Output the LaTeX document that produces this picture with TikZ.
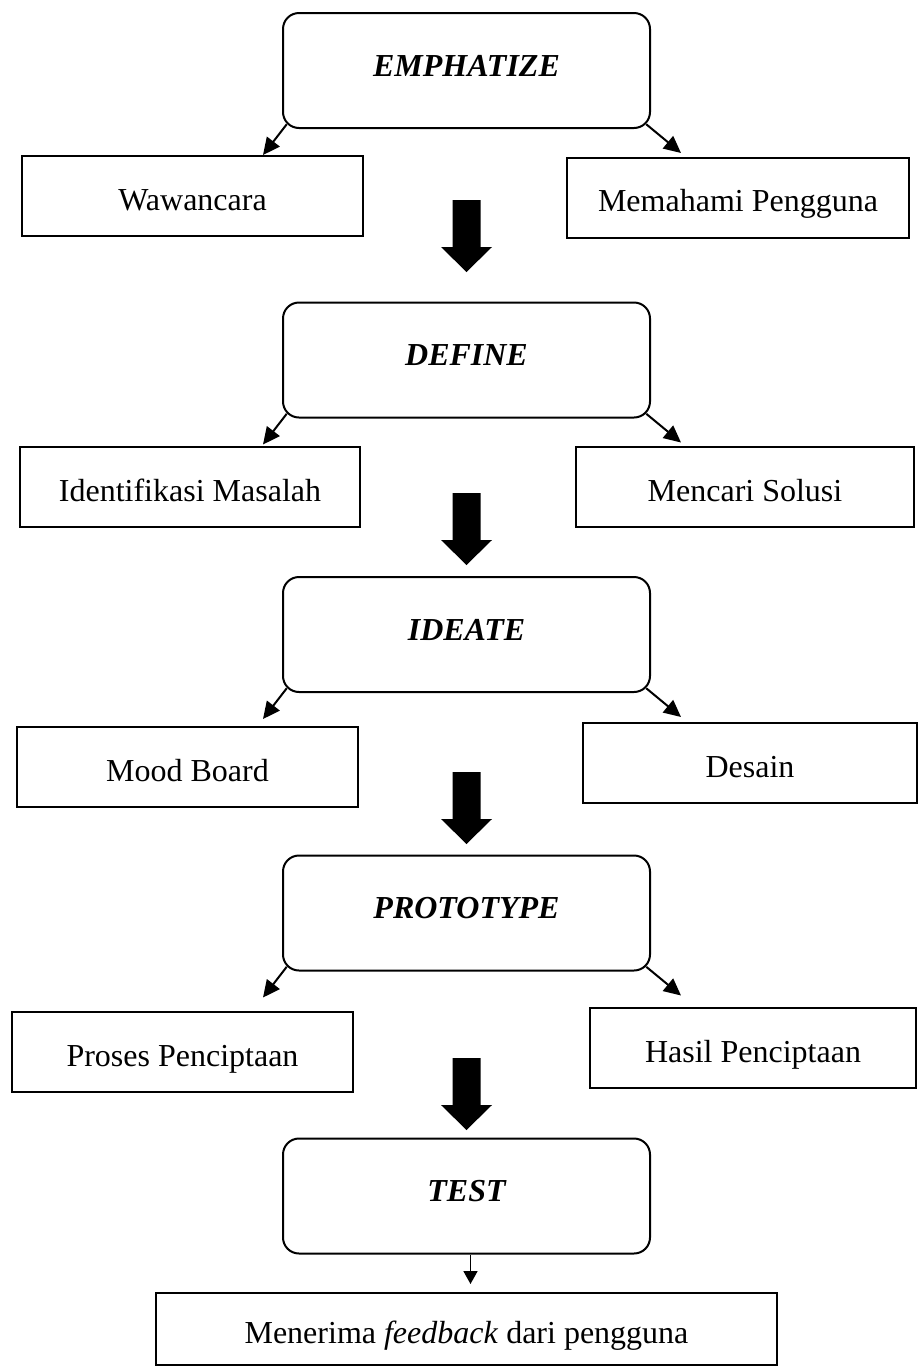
\documentclass[tikz,border=0pt]{standalone}
\usepackage{fontspec}
\setmainfont{Liberation Serif}
\usetikzlibrary{arrows.meta,calc}
\begin{document}
\begin{tikzpicture}[x=1pt,y=-1pt,
  every node/.style={font=\fontsize{32}{38}\selectfont},
  phase/.style={draw, line width=2pt, rounded corners=16pt, minimum width=367pt,
    minimum height=115pt, text height=21pt, text depth=10pt, inner sep=0pt,
    font=\fontsize{32}{38}\selectfont\bfseries\itshape},
  subbox/.style={draw, line width=2pt, minimum height=80pt, text height=28pt,
    text depth=0pt, inner sep=0pt},
  conn/.style={line width=2pt, -{Triangle[length=17pt,width=16pt]}},
  smallconn/.style={line width=1.8pt, -{Triangle[length=13pt,width=14pt]}},
  bigarrow/.pic={\fill[black] (-14,0) -- (14,0) -- (14,47) -- (25.5,47) -- (0,72)
    -- (-25.5,47) -- (-14,47) -- cycle;}
]
\useasboundingbox (0,0) rectangle (918,1369);

% phase boxes
\node[phase] (E)  at (466.5,70.5)  {EMPHATIZE};
\node[phase] (D)  at (466.5,360)   {DEFINE};
\node[phase] (Id) at (466.5,634.5) {IDEATE};
\node[phase] (P)  at (466.5,913)   {PROTOTYPE};
\node[phase] (T)  at (466.5,1196)  {TEST};

% sub boxes
\node[subbox, minimum width=341pt] (W)  at (192.5,196)  {Wawancara};
\node[subbox, minimum width=342pt] (M)  at (738,197.5)  {Memahami Pengguna};
\node[subbox, minimum width=340pt] (I)  at (190,487)    {Identifikasi Masalah};
\node[subbox, minimum width=338pt] (S)  at (745,487)    {Mencari Solusi};
\node[subbox, minimum width=341pt] (MB) at (187.5,767)  {Mood Board};
\node[subbox, minimum width=334pt] (De) at (750,763)    {Desain};
\node[subbox, minimum width=341pt] (PP) at (182.5,1052) {Proses Penciptaan};
\node[subbox, minimum width=326pt] (HP) at (753,1048)   {Hasil Penciptaan};
\node[subbox, minimum width=621pt, minimum height=72pt] (F) at (466.5,1329)
  {Menerima \textit{feedback} dari pengguna};

% big block arrows
\pic at (466.5,200)  {bigarrow};
\pic at (466.5,493)  {bigarrow};
\pic at (466.5,772)  {bigarrow};
\pic at (466.5,1058) {bigarrow};

% connectors
\foreach \n in {E,D,Id,P}{
  \draw[conn] ($(\n.south west)+(4.7,-4.7)$) -- ($(\n.south west)+(-19,26)$);
  \draw[conn] ($(\n.south east)+(-4.7,-4.7)$) -- ($(\n.south east)+(30,24)$);
}
\draw[smallconn] ([xshift=4pt]T.south) -- ($(F.north)+(4,-8)$);
\end{tikzpicture}
\end{document}
